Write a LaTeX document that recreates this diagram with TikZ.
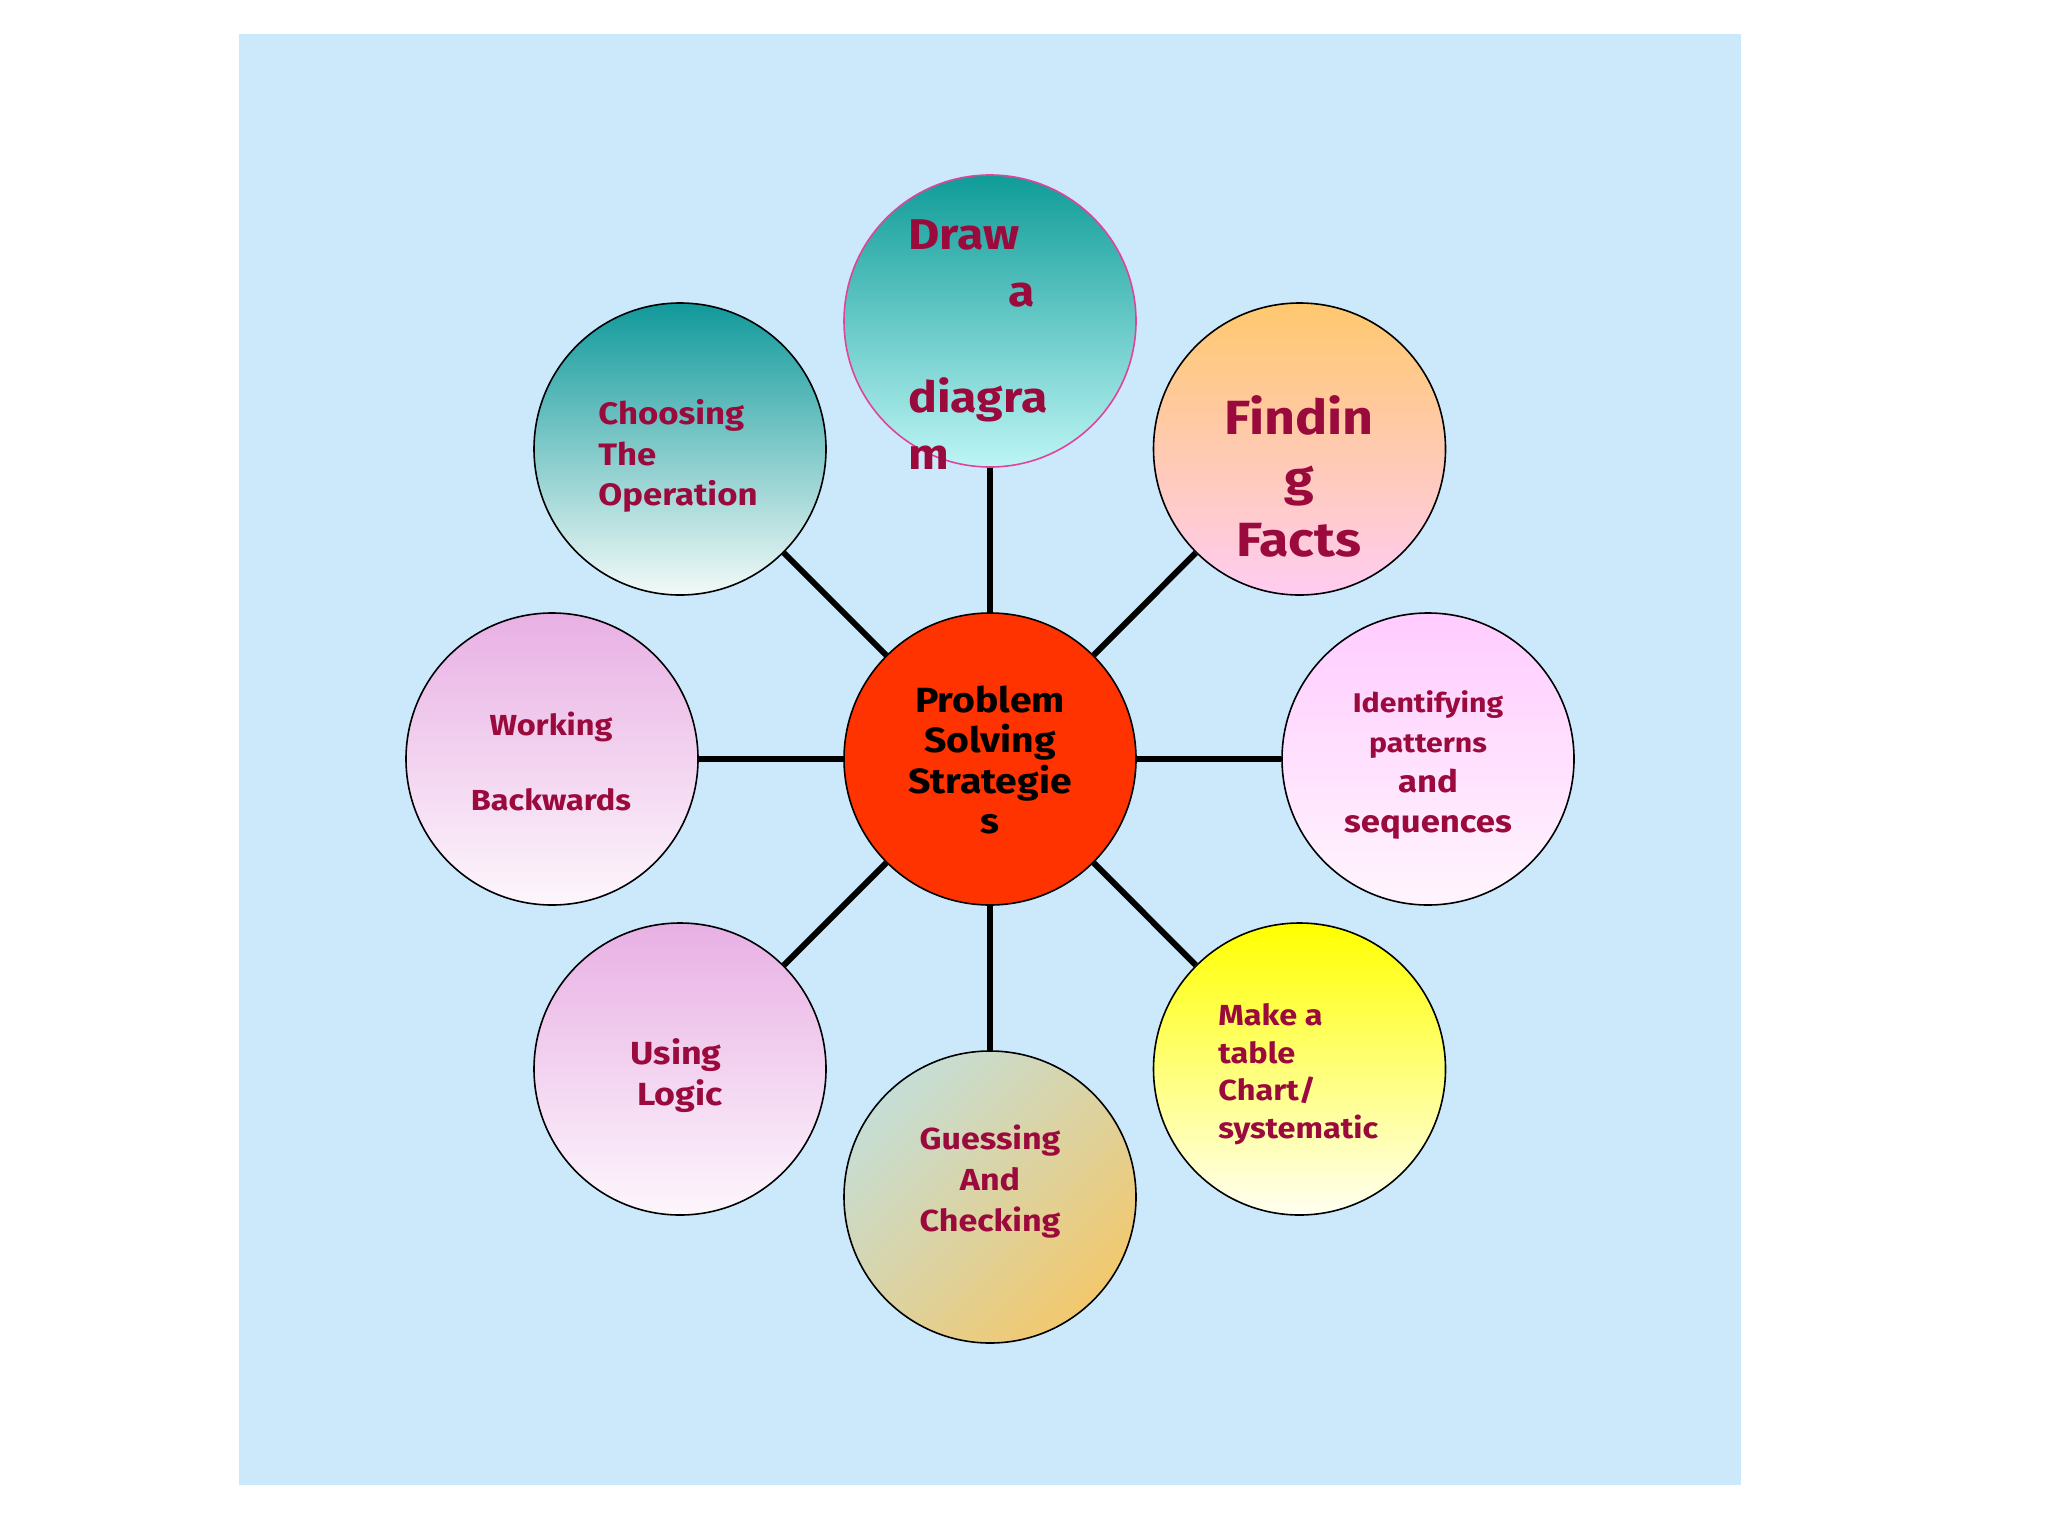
\documentclass[tikz,border=0pt]{standalone}
\usepackage{fontspec}
\setmainfont[FakeStretch=1.12]{Fira Sans}
\definecolor{bgblue}{HTML}{CCE9FC}
\definecolor{txtred}{HTML}{9B0A3C}
\definecolor{centerred}{HTML}{FF3300}
\definecolor{drawpink}{HTML}{E0449A}
\definecolor{tealA}{HTML}{0F9C98}
\definecolor{tealB}{HTML}{BDF5F5}
\definecolor{tealC}{HTML}{11999B}
\definecolor{tealD}{HTML}{F2FAF8}
\definecolor{orangeA}{HTML}{FFC86E}
\definecolor{pinkB}{HTML}{FFCCF2}
\definecolor{lilacA}{HTML}{FFCCFF}
\definecolor{lilacB}{HTML}{FFF5FD}
\definecolor{yellowA}{HTML}{FFFF00}
\definecolor{yellowB}{HTML}{FFFFF2}
\definecolor{sageA}{HTML}{C5DED6}
\definecolor{goldB}{HTML}{F2C86E}
\definecolor{mauveA}{HTML}{E8B0E4}
\definecolor{mauveB}{HTML}{FDF6FC}
\begin{document}
\begin{tikzpicture}[x=0.5pt,y=-0.5pt,
  bubble/.style={circle, minimum size=146pt, inner sep=0pt, draw=black, line width=0.8pt},
  lbl/.style={text=txtred, inner sep=0pt},
  link/.style={line width=3pt, draw=black}]
\useasboundingbox (0,0) rectangle (2048,1536);
\fill[bgblue] (239,34) rectangle (1741,1485);
% circles
\node[bubble, fill=centerred] (c) at (990,759) {};
\node[bubble, draw=drawpink, top color=tealA, bottom color=tealB] (ndraw) at (990,321) {};
\node[bubble, top color=orangeA, bottom color=pinkB] (nfind) at (1299.5,449) {};
\node[bubble, top color=lilacA, bottom color=lilacB] (nident) at (1428,759) {};
\node[bubble, top color=yellowA, bottom color=yellowB] (nmake) at (1299.5,1069) {};
\node[bubble, top color=sageA, bottom color=goldB, shading angle=45] (nguess) at (990,1197) {};
\node[bubble, top color=mauveA, bottom color=mauveB] (nlogic) at (680,1069) {};
\node[bubble, top color=mauveA, bottom color=mauveB] (nwork) at (552,759) {};
\node[bubble, top color=tealC, bottom color=tealD] (nchoose) at (680,449) {};
% connectors
\draw[link] (c) -- (ndraw);
\draw[link] (c) -- (nfind);
\draw[link] (c) -- (nident);
\draw[link] (c) -- (nmake);
\draw[link] (c) -- (nguess);
\draw[link] (c) -- (nlogic);
\draw[link] (c) -- (nwork);
\draw[link] (c) -- (nchoose);
% labels
\node[inner sep=0pt, align=center, font=\bfseries\fontsize{17.5}{20.25}\selectfont] (tc) at (990,760) {Problem\\Solving\\Strategie\\s};
\node[lbl, anchor=west, align=left, font=\bfseries\fontsize{21.5}{28.5}\selectfont] (tdraw) at (908,345) {Draw\\\hspace*{50pt}a\\[24.5pt]diagra\\m};
\node[lbl, align=center, font=\bfseries\fontsize{24}{30.5}\selectfont] (tfind) at (1299,476) {Findin\\g\\Facts};
\node[lbl, align=center, font=\bfseries\fontsize{13.5}{20}\selectfont] (tident) at (1428,765) {Identifying\\patterns\\{\fontsize{15.5}{20}\selectfont and}\\{\fontsize{15.5}{20}\selectfont sequences}};
\node[lbl, anchor=west, align=left, font=\bfseries\fontsize{14.5}{18.75}\selectfont] (tmake) at (1218,1074) {Make a\\table\\Chart/\\systematic};
\node[lbl, align=center, font=\bfseries\fontsize{15.2}{20.5}\selectfont] (tguess) at (990,1182) {Guessing\\And\\Checking};
\node[lbl, align=center, font=\bfseries\fontsize{16}{20.5}\selectfont] (tlogic) at (676,1076) {Using\\\hspace*{4pt}Logic};
\node[lbl, align=center, font=\bfseries\fontsize{14.5}{18.75}\selectfont] (twork) at (551,761) {Working\\[18.75pt]Backwards};
\node[lbl, anchor=west, align=left, font=\bfseries\fontsize{15.5}{20.25}\selectfont] (tchoose) at (598,456) {Choosing\\The\\Operation};
\end{tikzpicture}
\end{document}
